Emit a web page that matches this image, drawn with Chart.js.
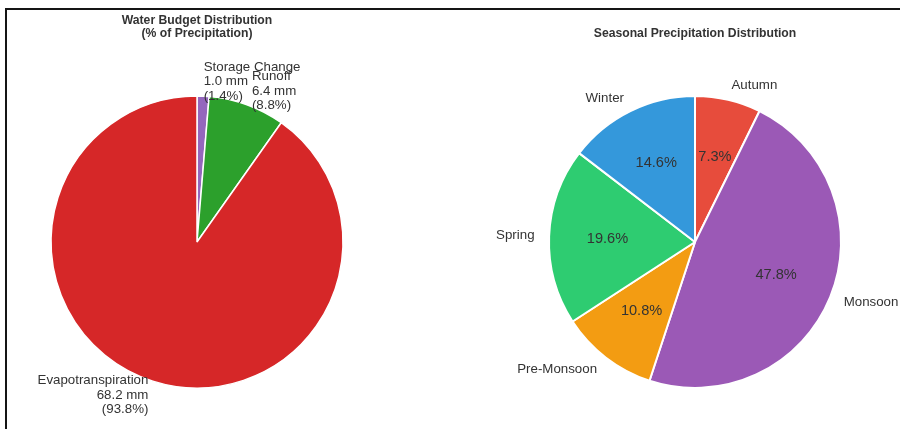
<!DOCTYPE html>
<html>
<head>
<meta charset="utf-8">
<script src="https://cdn.jsdelivr.net/npm/chart.js@4.4.0/dist/chart.umd.min.js"></script>
<style>
  html, body { margin: 0; padding: 0; background: #fff; overflow: hidden; }
  #page { position: relative; width: 900px; height: 429px; }
  #frame {
    position: absolute; left: 5px; top: 8px; width: 900px; height: 430px;
    border-top: 2px solid #151515; border-left: 2px solid #151515;
  }
  .pane { position: absolute; top: 0; width: 450px; height: 429px; }
  #budgetPane { left: 0; }
  #seasonPane { left: 450px; }
</style>
</head>
<body>
<div id="page">
  <div id="frame"></div>
  <div class="pane" id="budgetPane"><canvas id="budgetChart" width="450" height="429"></canvas></div>
  <div class="pane" id="seasonPane"><canvas id="seasonChart" width="450" height="429"></canvas></div>
</div>
<script>
// Water budget components (mm) and their share of precipitation (%)
const budgetLabels = ['Storage Change', 'Runoff', 'Evapotranspiration'];
const budgetMm = [1.0, 6.4, 68.2];
const budgetPct = [1.4, 8.8, 93.8];
const budgetColors = ['#9467bd', '#2ca02c', '#d62728'];

// Seasonal share of annual precipitation (%)
const seasonLabels = ['Autumn', 'Monsoon', 'Pre-Monsoon', 'Spring', 'Winter'];
const seasonPct = [7.3, 47.8, 10.8, 19.6, 14.6];
const seasonColors = ['#e74c3c', '#9b59b6', '#f39c12', '#2ecc71', '#3498db'];

const FONT = '"Liberation Sans", Arial, sans-serif';
const TEXT_COLOR = '#333333';

// draws title, outer labels and (optionally) inner percentages for a pie
function pieText(titleLines, outerText, innerText) {
    return {
        id: 'pieText',
        afterDatasetsDraw(chart) {
            const ctx = chart.ctx;
            const arcs = chart.getDatasetMeta(0).data;
            ctx.save();
            ctx.fillStyle = TEXT_COLOR;

            // title above the pie
            ctx.font = 'bold 12.2px ' + FONT;
            ctx.textAlign = 'center';
            ctx.textBaseline = 'middle';
            const cx = arcs[0].x;
            titleLines.forEach(line => {
                ctx.fillText(line.text, cx, line.y);
            });

            arcs.forEach((arc, i) => {
                const mid = (arc.startAngle + arc.endAngle) / 2;
                const r = arc.outerRadius;

                // outer label, lines stacked around the anchor point
                ctx.font = '13.3px ' + FONT;
                const lines = outerText(i);
                const lx = arc.x + Math.cos(mid) * r * 1.1;
                const ly = arc.y + Math.sin(mid) * r * 1.1;
                ctx.textAlign = Math.cos(mid) >= 0 ? 'left' : 'right';
                const lh = 14.6;
                const top = ly - (lines.length - 1) * lh / 2;
                lines.forEach((t, k) => ctx.fillText(t, lx, top + k * lh));

                // value inside the slice
                if (innerText) {
                    ctx.font = '14.6px ' + FONT;
                    ctx.textAlign = 'center';
                    ctx.fillText(innerText(i),
                        arc.x + Math.cos(mid) * r * 0.6,
                        arc.y + Math.sin(mid) * r * 0.6);
                }
            });
            ctx.restore();
        }
    };
}

function pieOptions(padding) {
    return {
        responsive: false,
        animation: false,
        radius: 146,
        layout: { padding: padding },
        plugins: {
            legend: { display: false },
            tooltip: { enabled: false },
            title: { display: false }
        },
        events: []
    };
}

// left pie: water budget
new Chart(document.getElementById('budgetChart'), {
    type: 'pie',
    data: {
        labels: budgetLabels,
        datasets: [{
            data: budgetMm,
            backgroundColor: budgetColors,
            borderColor: '#ffffff',
            borderWidth: 1.5,
            hoverOffset: 0
        }]
    },
    options: pieOptions({ left: 51, right: 107, top: 96, bottom: 41 }),
    plugins: [pieText(
        [{ text: 'Water Budget Distribution', y: 21 }, { text: '(% of Precipitation)', y: 34 }],
        i => [budgetLabels[i], budgetMm[i].toFixed(1) + ' mm', '(' + budgetPct[i].toFixed(1) + '%)'],
        null
    )]
});

// right pie: seasonal precipitation
new Chart(document.getElementById('seasonChart'), {
    type: 'pie',
    data: {
        labels: seasonLabels,
        datasets: [{
            data: seasonPct,
            backgroundColor: seasonColors,
            borderColor: '#ffffff',
            borderWidth: 2,
            hoverOffset: 0
        }]
    },
    options: pieOptions({ left: 99, right: 59, top: 96, bottom: 41 }),
    plugins: [pieText(
        [{ text: 'Seasonal Precipitation Distribution', y: 34 }],
        i => [seasonLabels[i]],
        i => seasonPct[i].toFixed(1) + '%'
    )]
});
</script>
</body>
</html>
